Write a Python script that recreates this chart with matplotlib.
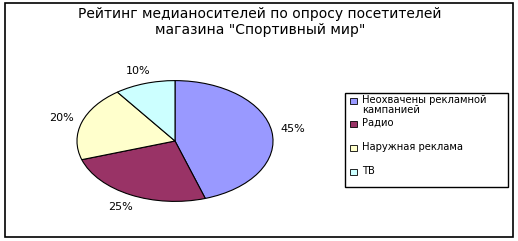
import matplotlib.pyplot as plt
from matplotlib.patches import Rectangle

labels = ["Неохвачены рекламной\nкампанией", "Радио", "Наружная реклама", "ТВ"]
shares = [45, 25, 20, 10]
colors = ["#9999FF", "#993366", "#FFFFCC", "#CCFFFF"]
title = 'Рейтинг медианосителей по опросу посетителей\nмагазина "Спортивный мир"'

W, H = 518, 241
fig = plt.figure(figsize=(W / 100, H / 100), dpi=100)

# outer chart frame
fig.add_artist(Rectangle((5 / W, 1 - 237 / H), 508 / W, 234 / H, transform=fig.transFigure,
                         fill=False, edgecolor="black", linewidth=1.2))

fig.text(260 / W, 1 - 22 / H, title, ha="center", va="center", fontsize=10,
         family="DejaVu Sans", linespacing=1.1)

# pie stretched into an ellipse
ax = fig.add_axes([76 / W, 1 - 202 / H, 198 / W, 122 / H])
ax.pie(shares, colors=colors, startangle=90, counterclock=False,
       autopct="%d%%", pctdistance=1.22,
       wedgeprops=dict(edgecolor="black", linewidth=0.8),
       textprops=dict(fontsize=8))
ax.set_aspect("auto")
ax.set_xlim(-1.01, 1.01)
ax.set_ylim(-1.01, 1.01)
ax.axis("off")

# legend box
fig.add_artist(Rectangle((345 / W, 1 - 187 / H), 163 / W, 94 / H, transform=fig.transFigure,
                         fill=False, edgecolor="black", linewidth=1))
entry_y = [101, 124, 148, 172]
for lab, col, y in zip(labels, colors, entry_y):
    fig.add_artist(Rectangle((350 / W, 1 - (y + 3) / H), 7 / W, 6 / H, transform=fig.transFigure,
                             facecolor=col, edgecolor="black", linewidth=0.6))
    fig.text(362 / W, 1 - (y - 6) / H, lab, ha="left", va="top", fontsize=7.2,
             linespacing=1.05)

fig.savefig("out.png", dpi=100)
